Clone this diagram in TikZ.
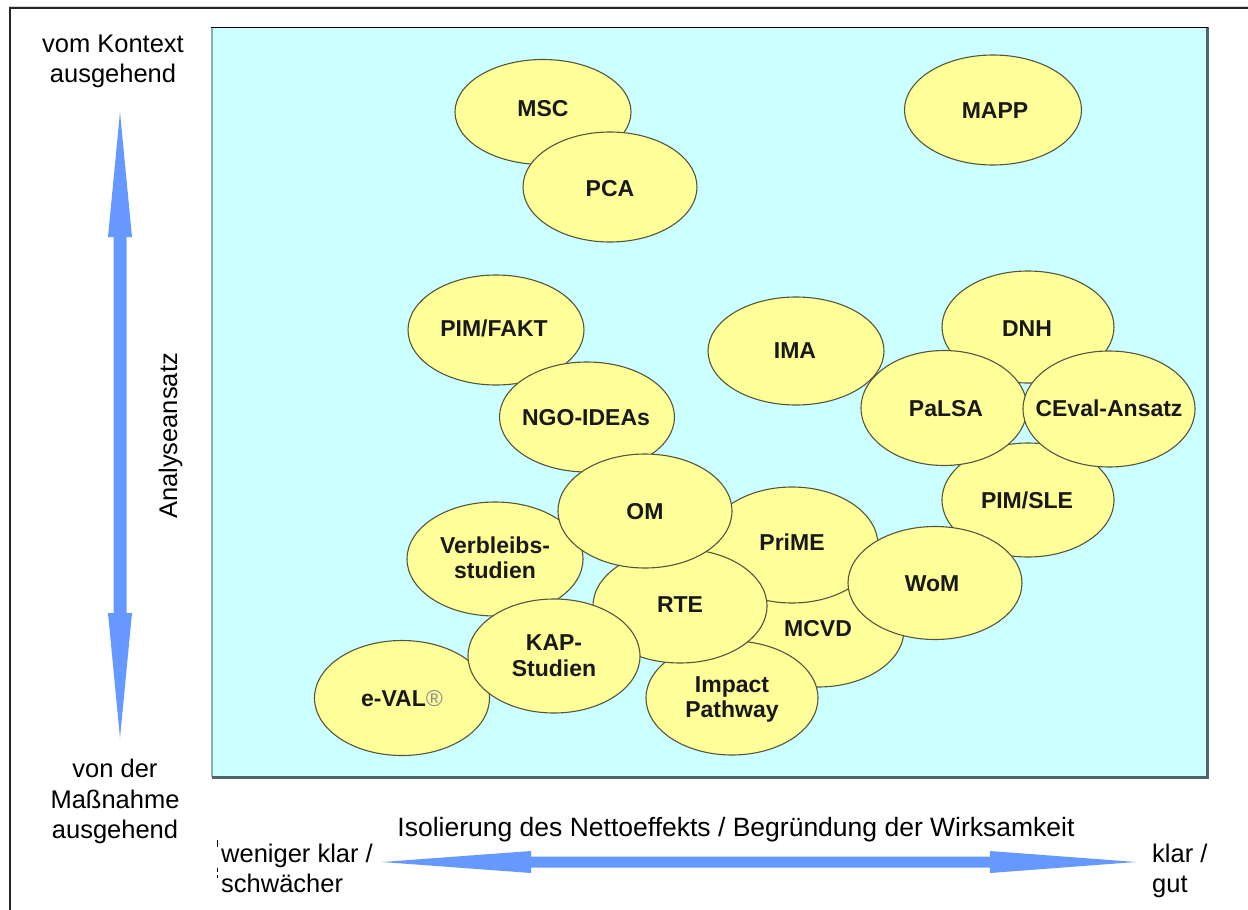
\documentclass[tikz,border=0pt]{standalone}
\usepackage{fontspec}
\setmainfont{Liberation Sans}
\usetikzlibrary{shapes.geometric}
\definecolor{bgcyan}{HTML}{CCFFFF}
\definecolor{blobfill}{HTML}{FFFF99}
\definecolor{blobline}{HTML}{55553F}
\definecolor{arrowblue}{HTML}{6699FF}
\definecolor{shadowdark}{HTML}{4F6666}
\definecolor{shadowlight}{HTML}{8FB0B0}
\begin{document}
\begin{tikzpicture}[x=1pt,y=-1pt,
  blob/.style={ellipse, draw=blobline, line width=1.1pt, fill=blobfill, inner sep=0pt},
  blobtxt/.style={anchor=base, inner sep=0pt, font=\fontsize{23}{25}\selectfont\bfseries, text=black!90},
  side/.style={inner sep=0pt, font=\fontsize{25.5}{30}\selectfont, text=black},
  bigarrow/.style={fill=arrowblue, draw=none}]
\useasboundingbox (0,0) rectangle (1248,910);
\fill[white] (0,0) rectangle (1248,910);
% outer frame
\draw[gray!35, line width=1pt] (9,6.5) -- (1250,6.5);
\draw[black!85, line width=1.5pt] (10,912) -- (10,8) -- (1250,8);
% inner panel
\fill[bgcyan] (212,27) rectangle (1207,777);
\draw[shadowlight, line width=2.5pt] (212,27) -- (212,777);
\draw[shadowdark, line width=3pt] (1207,27) -- (1207,777) -- (212,777);
\draw[black, line width=1pt] (211,27) -- (1208,27);
% ellipses (back to front)
\node[blob, minimum width=176, minimum height=105] (msc) at (543,112) {};
\node[blobtxt] (tmsc) at (543,116) {MSC};
\node[blob, minimum width=174, minimum height=110] (pca) at (610,187) {};
\node[blobtxt] (tpca) at (610,196) {PCA};
\node[blob, minimum width=177, minimum height=110] (mapp) at (993,110) {};
\node[blobtxt] (tmapp) at (995,118) {MAPP};
\node[blob, minimum width=176, minimum height=110] (pimfakt) at (496,330) {};
\node[blobtxt] (tpimfakt) at (494,336) {PIM/FAKT};
\node[blob, minimum width=175, minimum height=110] (ngo) at (587,417) {};
\node[blobtxt] (tngo) at (586,425) {NGO-IDEAs};
\node[blob, minimum width=176, minimum height=108] (ima) at (796,351) {};
\node[blobtxt] (tima) at (795,358) {IMA};
\node[blob, minimum width=172, minimum height=112] (dnh) at (1028,327) {};
\node[blobtxt] (tdnh) at (1027,336) {DNH};
\node[blob, minimum width=172, minimum height=114] (pimsle) at (1028,500) {};
\node[blobtxt] (tpimsle) at (1027,508) {PIM/SLE};
\node[blob, minimum width=166, minimum height=115] (palsa) at (944,408) {};
\node[blobtxt] (tpalsa) at (946,416) {PaLSA};
\node[blob, minimum width=172, minimum height=116] (ceval) at (1109,409) {};
\node[blobtxt] (tceval) at (1109,416) {CEval-Ansatz};
\node[blob, minimum width=176, minimum height=114] (verb) at (495,559) {};
\node[blobtxt] (tverb1) at (495,553) {Verbleibs-};
\node[blobtxt] (tverb2) at (495,578) {studien};
\node[blob, minimum width=172, minimum height=114] (mcvd) at (818,630) {};
\node[blobtxt] (tmcvd) at (818,636) {MCVD};
\node[blob, minimum width=172, minimum height=114] (impact) at (732,698) {};
\node[blobtxt] (timpact1) at (732,692) {Impact};
\node[blobtxt] (timpact2) at (732,717) {Pathway};
\node[blob, minimum width=172, minimum height=116] (prime) at (792,545) {};
\node[blobtxt] (tprime) at (792,550) {PriME};
\node[blob, minimum width=174, minimum height=114] (rte) at (680,606) {};
\node[blobtxt] (trte) at (680,612) {RTE};
\node[blob, minimum width=174, minimum height=114] (om) at (645,511) {};
\node[blobtxt] (tom) at (645,519) {OM};
\node[blob, minimum width=175, minimum height=115] (eval) at (402,698) {};
\node[blobtxt] (teval) at (402,706) {e-VAL{\color{black!45}\mdseries ®}};
\node[blob, minimum width=172, minimum height=114] (kap) at (554,656) {};
\node[blobtxt] (tkap1) at (554,650) {KAP-};
\node[blobtxt] (tkap2) at (554,676) {Studien};
\node[blob, minimum width=174, minimum height=113] (wom) at (935,583) {};
\node[blobtxt] (twom) at (932,591) {WoM};
% vertical arrow
\coordinate (vtop) at (120,112);
\coordinate (vbot) at (120,738);
\fill[bigarrow] (vtop) -- (132,237) -- (126.5,237) -- (126.5,613) -- (132,613) -- (vbot)
  -- (108,613) -- (113.5,613) -- (113.5,237) -- (108,237) -- cycle;
% horizontal arrow
\coordinate (hleft) at (382,862);
\coordinate (hright) at (1136,862);
\fill[bigarrow] (hleft) -- (531,851) -- (531,856.5) -- (990,856.5) -- (990,851) -- (hright)
  -- (990,873) -- (990,867.5) -- (531,867.5) -- (531,873) -- cycle;
% side texts
\node[side, anchor=base] (ctx1) at (113,52) {vom Kontext};
\node[side, anchor=base] (ctx2) at (113,82) {ausgehend};
\node[side, anchor=base] (mas1) at (115,777) {von der};
\node[side, anchor=base] (mas2) at (115,808) {Maßnahme};
\node[side, anchor=base] (mas3) at (115,838) {ausgehend};
\node[side, anchor=base, rotate=90] (analyse) at (177,436) {Analyseansatz};
\node[side, anchor=base, font=\fontsize{26.5}{30}\selectfont] (iso) at (736,836) {Isolierung des Nettoeffekts / Begründung der Wirksamkeit};
\node[side, anchor=base west] (weniger1) at (221,862) {weniger klar /};
\node[side, anchor=base west] (weniger2) at (221,892) {schwächer};
\node[side, anchor=base west] (klar1) at (1152,862) {klar /};
\node[side, anchor=base west] (klar2) at (1152,892) {gut};
% small box-edge ticks
\draw[black, line width=0.8pt] (217,840) -- (217,847);
\draw[black, line width=0.8pt] (217,868) -- (217,872);
\draw[black, line width=0.8pt] (217,875) -- (217,878);
\end{tikzpicture}
\end{document}
